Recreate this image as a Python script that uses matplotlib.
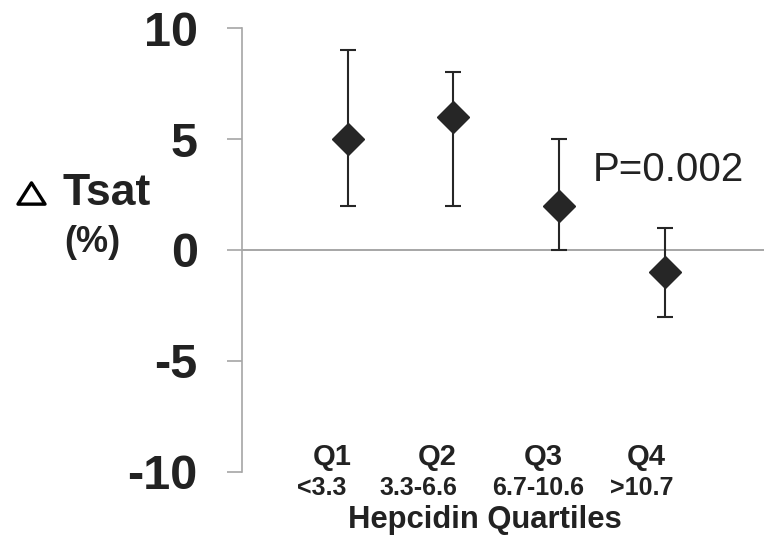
import matplotlib
matplotlib.use('Agg')
import matplotlib.pyplot as plt
from matplotlib.path import Path
import numpy as np

# data
quartiles = ['Q1', 'Q2', 'Q3', 'Q4']
ranges = ['<3.3', '3.3-6.6', '6.7-10.6', '>10.7']
delta_tsat = [5, 6, 2, -1]
err_low = [2, 2, 0, -3]
err_high = [9, 8, 5, 1]
p_text = 'P=0.002'

plt.rcParams['font.family'] = ['Liberation Sans', 'DejaVu Sans']
plt.rcParams['axes.unicode_minus'] = False
txt = '#222222'
grey = '#a6a6a6'

x = np.arange(1, len(quartiles) + 1)
y = np.array(delta_tsat)
yerr = [y - np.array(err_low), np.array(err_high) - y]

fig = plt.figure(figsize=(7.64, 5.42), dpi=100)
ax = fig.add_axes([0.3168, 0.1292, 0.6832, 0.8191])

ax.axhline(0, color=grey, lw=1.4, zorder=1)
ax.errorbar(x, y, yerr=yerr, fmt='D', color='#262626', ms=16.5,
            ecolor='#262626', elinewidth=1.5, capsize=5.8, capthick=1.5, zorder=3)

ax.set_xlim(0, 4.94)
ax.set_ylim(-10, 10)
ax.set_yticks([-10, -5, 0, 5, 10])
ax.tick_params(axis='y', length=10.8, width=1.2, color=grey, pad=21,
               labelsize=35, labelcolor=txt)
for lab in ax.get_yticklabels():
    lab.set_fontweight('bold')
ax.spines['left'].set_color(grey)
ax.spines['left'].set_linewidth(1.2)
for s in ['top', 'right', 'bottom']:
    ax.spines[s].set_visible(False)
ax.set_xticks([])

# category labels
xt = ax.get_xaxis_transform()
q_off = [-0.15, -0.15, -0.15, -0.17]
range_off = [-0.25, -0.33, -0.2, -0.22]
for xi, q, r, qo, ro in zip(x, quartiles, ranges, q_off, range_off):
    ax.text(xi + qo, 0.034, q, transform=xt, ha='center', va='center',
            fontsize=21, fontweight='bold', color=txt)
    ax.text(xi + ro, -0.036, r, transform=xt, ha='center', va='center',
            fontsize=18, fontweight='bold', color=txt)
ax.text(2.3, -0.108, 'Hepcidin Quartiles', transform=xt,
        ha='center', va='center', fontsize=22.3, fontweight='bold', color=txt)

ax.text(3.32, 3.6, p_text, ha='left', va='center', fontsize=29, color=txt)

# y label: outlined triangle + text
tri = Path([(-14, -11), (14, -11), (0, 11), (-14, -11)], closed=True)
ax.plot([31 / 764], [1 - 193 / 542], transform=fig.transFigure, clip_on=False,
        marker=tri, ms=19.5, mfc='white', mec='black', mew=2.4, ls='none')
fig.text(107 / 764, 1 - 205 / 542, 'Tsat', fontsize=32, fontweight='bold',
         ha='center', va='baseline', color=txt)
fig.text(92 / 764, 1 - 243 / 542, '(%)', fontsize=26, fontweight='bold',
         ha='center', va='center', color=txt)

fig.savefig('out.png', dpi=100)
